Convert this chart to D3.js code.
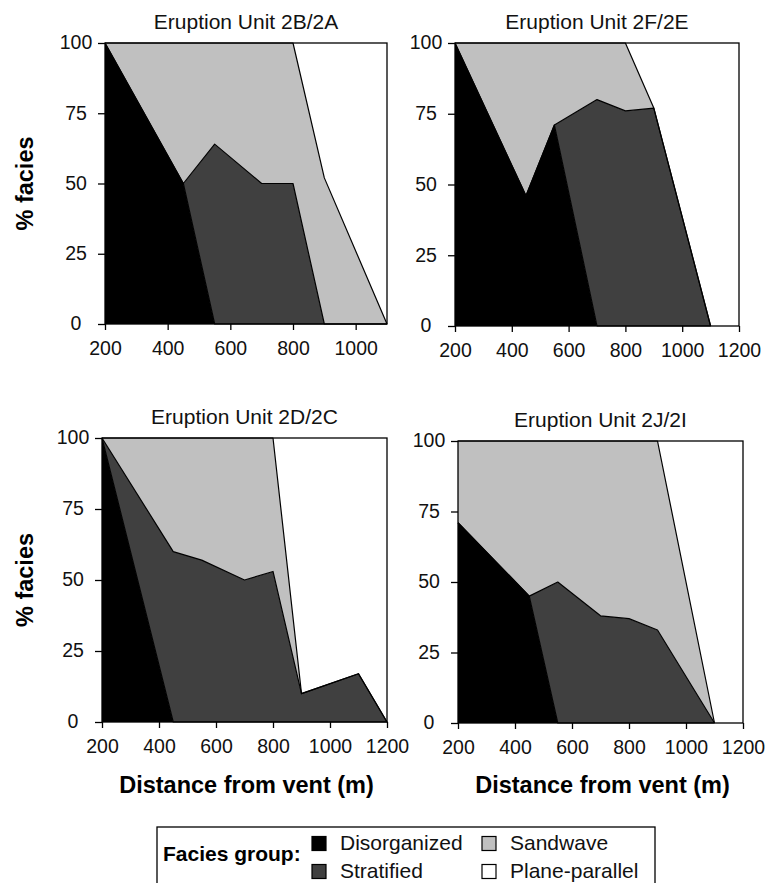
<!DOCTYPE html>
<html lang="en">
<head>
    <meta charset="UTF-8">
    <title>facies</title>
    <style>
        body {
            margin: 0;
            background-color: #fff;
        }
        svg {
            display: block;
            font-family: "Liberation Sans", Arial, Helvetica, sans-serif;
        }
        .frame {
            fill: none;
            stroke: #000;
            stroke-width: 1.3px;
        }
        .layerLine {
            fill: none;
            stroke: #000;
            stroke-width: 1.2px;
            stroke-linejoin: round;
        }
        .tick line {
            stroke: #000;
            stroke-width: 1.3px;
        }
        .tick text {
            font-size: 19.5px;
            fill: #111;
        }
    </style>
</head>
<body>

<script src="https://d3js.org/d3.v7.min.js"></script>

<script>
    // facies groups (bottom to top of the stack)
    var facies = ["Disorganized", "Stratified", "Sandwave", "Plane-parallel"];
    var faciesColors = ["#000000", "#404040", "#c0c0c0", "#ffffff"];

    var yTicks = [0, 25, 50, 75, 100];

    // Eruption Unit 2B/2A
    var dist2B = [200, 450, 550, 700, 800, 900, 1100];
    var disorg2B = [100, 50, 0, 0, 0, 0, 0];
    var strat2B = [0, 0, 64, 50, 50, 0, 0];
    var sand2B = [0, 50, 36, 50, 50, 52, 0];
    var plane2B = [0, 0, 0, 0, 0, 48, 100];
    var xTicks2B = [200, 400, 600, 800, 1000];

    // Eruption Unit 2F/2E
    var dist2F = [200, 450, 550, 700, 800, 900, 1100];
    var disorg2F = [100, 46, 71, 0, 0, 0, 0];
    var strat2F = [0, 0, 0, 80, 76, 77, 0];
    var sand2F = [0, 54, 29, 20, 24, 0, 0];
    var plane2F = [0, 0, 0, 0, 0, 23, 100];
    var xTicks2F = [200, 400, 600, 800, 1000, 1200];

    // Eruption Unit 2D/2C
    var dist2D = [200, 450, 550, 700, 800, 900, 1100, 1200];
    var disorg2D = [100, 0, 0, 0, 0, 0, 0, 0];
    var strat2D = [0, 60, 57, 50, 53, 10, 17, 0];
    var sand2D = [0, 40, 43, 50, 47, 0, 0, 0];
    var plane2D = [0, 0, 0, 0, 0, 90, 83, 100];
    var xTicks2D = [200, 400, 600, 800, 1000, 1200];

    // Eruption Unit 2J/2I
    var dist2J = [200, 450, 550, 700, 800, 900, 1100];
    var disorg2J = [71, 45, 0, 0, 0, 0, 0];
    var strat2J = [0, 0, 50, 38, 37, 33, 0];
    var sand2J = [29, 55, 50, 62, 63, 67, 0];
    var plane2J = [0, 0, 0, 0, 0, 0, 100];
    var xTicks2J = [200, 400, 600, 800, 1000, 1200];

    var svg = d3.select("body")
        .append("svg")
        .attr("width", 773)
        .attr("height", 883);

    // plot boxes (pixels) for each panel
    var panels = [
        {title: "Eruption Unit 2B/2A", dist: dist2B, vals: [disorg2B, strat2B, sand2B, plane2B], xMax: 1100, ticks: xTicks2B,
            x0: 105, x1: 387, y0: 43, y1: 324, yLabel: true, xLabel: false},
        {title: "Eruption Unit 2F/2E", dist: dist2F, vals: [disorg2F, strat2F, sand2F, plane2F], xMax: 1200, ticks: xTicks2F,
            x0: 455, x1: 739, y0: 43, y1: 326, yLabel: false, xLabel: false},
        {title: "Eruption Unit 2D/2C", dist: dist2D, vals: [disorg2D, strat2D, sand2D, plane2D], xMax: 1200, ticks: xTicks2D,
            x0: 102, x1: 387, y0: 438, y1: 722, yLabel: true, xLabel: true},
        {title: "Eruption Unit 2J/2I", dist: dist2J, vals: [disorg2J, strat2J, sand2J, plane2J], xMax: 1200, ticks: xTicks2J,
            x0: 458, x1: 743, y0: 441, y1: 723, yLabel: false, xLabel: true}
    ];

    panels.forEach(function (p) {

        var rows = p.dist.map(function (d, i) {
            var r = {dist: d};
            facies.forEach(function (f, k) { r[f] = p.vals[k][i]; });
            return r;
        });

        var x = d3.scaleLinear().domain([200, p.xMax]).range([p.x0, p.x1]);
        var y = d3.scaleLinear().domain([0, 100]).range([p.y1, p.y0]);

        var series = d3.stack().keys(facies)(rows);

        var area = d3.area()
            .x(function (d) { return x(d.data.dist); })
            .y0(function (d) { return y(d[0]); })
            .y1(function (d) { return y(d[1]); });

        var topLine = d3.line()
            .x(function (d) { return x(d.data.dist); })
            .y(function (d) { return y(d[1]); });

        var g = svg.append("g");

        g.selectAll("path.layer")
            .data(series)
            .enter()
            .append("path")
            .attr("class", "layer")
            .attr("d", area)
            .style("fill", function (d, i) { return faciesColors[i]; });

        g.selectAll("path.layerLine")
            .data(series.slice(0, 3))
            .enter()
            .append("path")
            .attr("class", "layerLine")
            .attr("d", topLine);

        // axes
        var yAxis = d3.axisLeft(y).tickValues(yTicks).tickSize(7).tickSizeOuter(0);
        var gy = svg.append("g")
            .attr("transform", "translate(" + p.x0 + ",0)")
            .call(yAxis);
        gy.select(".domain").remove();
        gy.selectAll("text")
            .attr("text-anchor", "middle")
            .attr("x", -29)
            .attr("dy", "0.3em");

        var xAxis = d3.axisBottom(x).tickValues(p.ticks).tickFormat(d3.format("d"))
            .tickSize(6).tickPadding(11.5).tickSizeOuter(0);
        var gx = svg.append("g")
            .attr("transform", "translate(0," + p.y1 + ")")
            .call(xAxis);
        gx.select(".domain").remove();

        svg.append("rect")
            .attr("class", "frame")
            .attr("x", p.x0)
            .attr("y", p.y0)
            .attr("width", p.x1 - p.x0)
            .attr("height", p.y1 - p.y0);

        svg.append("text")
            .attr("x", (p.x0 + p.x1) / 2)
            .attr("y", p.y0 - 14.5)
            .attr("text-anchor", "middle")
            .style("font-size", "21px")
            .style("fill", "#111")
            .text(p.title);

        if (p.yLabel) {
            svg.append("text")
                .attr("transform", "translate(33," + (p.y0 + p.y1) / 2 + ") rotate(-90)")
                .attr("text-anchor", "middle")
                .style("font-size", "23.5px")
                .style("font-weight", "bold")
                .text("% facies");
        }

        if (p.xLabel) {
            svg.append("text")
                .attr("x", (p.x0 + p.x1) / 2 + 2)
                .attr("y", 793)
                .attr("text-anchor", "middle")
                .style("font-size", "23.5px")
                .style("font-weight", "bold")
                .text("Distance from vent (m)");
        }
    });

    // legend
    var legend = svg.append("g");

    legend.append("rect")
        .attr("class", "frame")
        .attr("x", 157)
        .attr("y", 827)
        .attr("width", 498)
        .attr("height", 70);

    legend.append("text")
        .attr("x", 163)
        .attr("y", 861)
        .style("font-size", "21px")
        .style("font-weight", "bold")
        .text("Facies group:");

    var legendPos = [[312, 850], [312, 878], [482, 850], [482, 878]];

    legend.selectAll("rect.sw")
        .data(facies)
        .enter()
        .append("rect")
        .attr("class", "sw")
        .attr("x", function (d, i) { return legendPos[i][0]; })
        .attr("y", function (d, i) { return legendPos[i][1] - 13.5; })
        .attr("width", 14)
        .attr("height", 14)
        .style("fill", function (d, i) { return faciesColors[i]; })
        .style("stroke", "#000")
        .style("stroke-width", 1.2);

    legend.selectAll("text.lab")
        .data(facies)
        .enter()
        .append("text")
        .attr("class", "lab")
        .attr("x", function (d, i) { return legendPos[i][0] + 28; })
        .attr("y", function (d, i) { return legendPos[i][1]; })
        .style("font-size", "21px")
        .style("fill", "#111")
        .text(function (d) { return d; });

</script>

</body>
</html>
